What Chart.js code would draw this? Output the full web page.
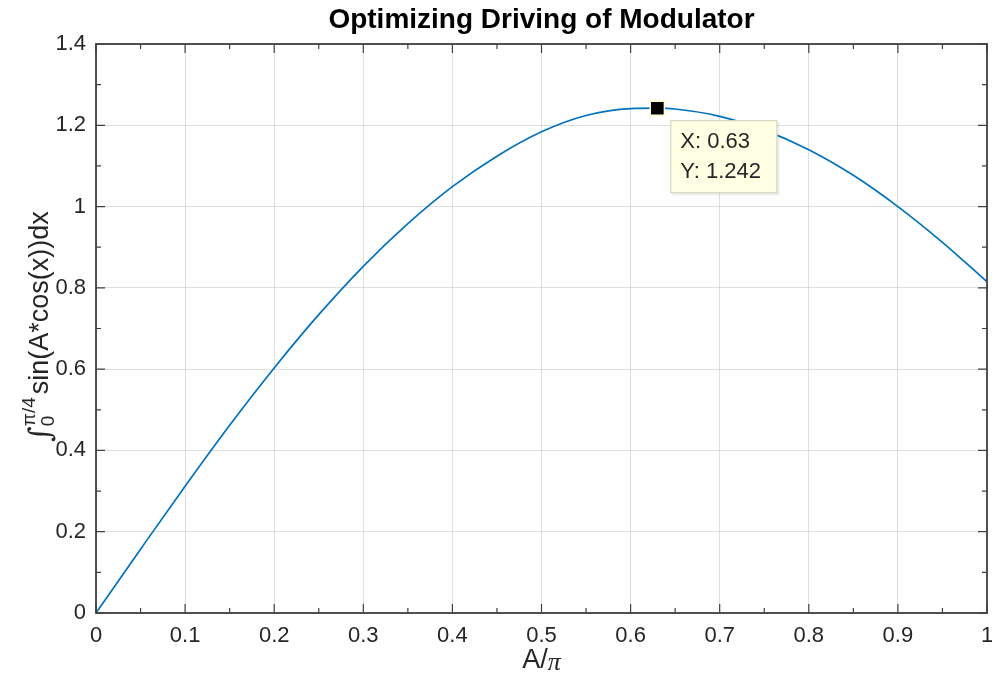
<!DOCTYPE html>
<html lang="en">
<head>
    <meta charset="UTF-8">
    <title>Optimizing Driving of Modulator</title>
    <script src="https://cdn.jsdelivr.net/npm/chart.js"></script>
    <style>
        html, body { margin: 0; padding: 0; background: #fff; }
        #wrap { width: 992px; height: 673px; }
    </style>
</head>
<body>
    <div id="wrap"><canvas id="modChart" width="992" height="673"></canvas></div>

    <script>
        // A/pi values and the integral value for each
        const aValues = [0, 0.05, 0.1, 0.15, 0.2, 0.25, 0.3, 0.35, 0.4, 0.45, 0.5, 0.55, 0.6, 0.63, 0.65, 0.7, 0.75, 0.8, 0.85, 0.9, 0.95, 1];
        const integralValues = [0, 0.157, 0.312, 0.462, 0.603, 0.734, 0.853, 0.958, 1.049, 1.124, 1.184, 1.224, 1.241, 1.242, 1.240, 1.222, 1.188, 1.140, 1.077, 1.000, 0.912, 0.815];

        // data tip
        const tipX = 0.63;
        const tipY = 1.242;

        const xTicks = [0, 0.1, 0.2, 0.3, 0.4, 0.5, 0.6, 0.7, 0.8, 0.9, 1];
        const yTicks = [0, 0.2, 0.4, 0.6, 0.8, 1, 1.2, 1.4];
        const xMinorTicks = [0.05, 0.15, 0.25, 0.35, 0.45, 0.55, 0.65, 0.75, 0.85, 0.95];
        const yMinorTicks = [0.1, 0.3, 0.5, 0.7, 0.9, 1.1, 1.3];

        const FONT = '"Liberation Sans", Arial, Helvetica, sans-serif';
        const TXT = '#262626';

        const fmt = v => String(Number(v.toFixed(2)));

        // box around the axes, inward ticks, labels, title and the data tip
        const matlabAxes = {
            id: 'matlabAxes',
            afterDraw(chart) {
                const c = chart.ctx;
                const a = chart.chartArea;
                const xs = chart.scales.x;
                const ys = chart.scales.y;
                c.save();

                // ticks on all four sides
                c.strokeStyle = '#404040';
                c.lineWidth = 1.2;
                c.beginPath();
                const xTick = (v, len) => {
                    const px = xs.getPixelForValue(v);
                    c.moveTo(px, a.bottom); c.lineTo(px, a.bottom - len);
                    c.moveTo(px, a.top); c.lineTo(px, a.top + len);
                };
                const yTick = (v, len) => {
                    const py = ys.getPixelForValue(v);
                    c.moveTo(a.left, py); c.lineTo(a.left + len, py);
                    c.moveTo(a.right, py); c.lineTo(a.right - len, py);
                };
                xTicks.forEach(v => xTick(v, 9));
                xMinorTicks.forEach(v => xTick(v, 5));
                yTicks.forEach(v => yTick(v, 9));
                yMinorTicks.forEach(v => yTick(v, 5));
                c.stroke();

                // axes box
                c.strokeStyle = '#404040';
                c.lineWidth = 1.8;
                c.strokeRect(a.left, a.top, a.right - a.left, a.bottom - a.top);

                const cx = (a.left + a.right) / 2;
                const cy = (a.top + a.bottom) / 2;

                // title
                c.fillStyle = '#000';
                c.font = 'bold 28px ' + FONT;
                c.textAlign = 'center';
                c.textBaseline = 'middle';
                c.fillText('Optimizing Driving of Modulator', cx, 20);

                // x axis label: A/pi
                c.fillStyle = TXT;
                c.font = '27px ' + FONT;
                const partA = 'A/';
                const wA = c.measureText(partA).width;
                c.font = 'italic 26px "Liberation Serif", serif';
                const wPi = c.measureText('\u03c0').width;
                let lx = cx - (wA + wPi) / 2;
                c.textAlign = 'left';
                c.font = '27px ' + FONT;
                c.fillText(partA, lx, 661);
                c.font = 'italic 26px "Liberation Serif", serif';
                c.fillText('\u03c0', lx + wA, 663);

                // y axis label: integral from 0 to pi/4 of sin(A*cos(x))dx
                c.save();
                c.translate(41, cy - 2);
                c.rotate(-Math.PI / 2);
                c.font = 'italic 30px "DejaVu Serif", serif';
                const wInt = c.measureText('\u222b').width;
                const mainText = 'sin(A*cos(x))dx';
                c.font = '27px ' + FONT;
                const wMain = c.measureText(mainText).width;
                c.font = '19px ' + FONT;
                const wSup = c.measureText('\u03c0/4').width;
                const total = wInt + wSup + 3 + wMain;
                let px = -total / 2;
                c.textAlign = 'left';
                c.textBaseline = 'middle';
                c.font = 'italic 30px "DejaVu Serif", serif';
                c.fillText('\u222b', px, 1);
                px += wInt;
                c.font = '19px ' + FONT;
                c.fillText('\u03c0/4', px, -11);
                c.fillText('0', px, 8);
                px += wSup + 3;
                c.font = '27px ' + FONT;
                c.fillText(mainText, px, 0);
                c.restore();

                // data tip box
                const tx = xs.getPixelForValue(tipX);
                const ty = ys.getPixelForValue(tipY);
                const bx = tx + 13, by = ty + 12, bw = 107, bh = 73;
                c.fillStyle = 'rgba(0,0,0,0.08)';
                c.fillRect(bx + 2, by + 2, bw, bh);
                c.fillStyle = '#ffffe4';
                c.fillRect(bx, by, bw, bh);
                c.strokeStyle = '#cfcfbf';
                c.lineWidth = 1;
                c.strokeRect(bx + 0.5, by + 0.5, bw - 1, bh - 1);
                c.fillStyle = TXT;
                c.font = '22px ' + FONT;
                c.textAlign = 'left';
                c.textBaseline = 'middle';
                c.fillText('X: ' + fmt(tipX), bx + 10, by + 22);
                c.fillText('Y: ' + tipY.toFixed(3), bx + 10, by + 52);

                c.restore();
            }
        };

        document.addEventListener('DOMContentLoaded', () => {
            const ctx = document.getElementById('modChart').getContext('2d');

            const curve = aValues.map((a, i) => ({ x: a, y: integralValues[i] }));

            new Chart(ctx, {
                type: 'line',
                data: {
                    datasets: [{
                        data: [{ x: tipX, y: tipY }],
                        pointStyle: 'rect',
                        pointRadius: 10,
                        pointBackgroundColor: '#000',
                        pointBorderColor: '#ffffc8',
                        pointBorderWidth: 1.5,
                        showLine: false,
                        order: 0
                    }, {
                        data: curve,
                        borderColor: '#0072bd',
                        borderWidth: 1.7,
                        pointRadius: 0,
                        cubicInterpolationMode: 'monotone',
                        fill: false,
                        order: 1
                    }]
                },
                options: {
                    responsive: false,
                    animation: false,
                    events: [],
                    layout: { autoPadding: false, padding: { top: 44, right: 5, left: 0, bottom: 0 } },
                    plugins: {
                        legend: { display: false },
                        title: { display: false },
                        tooltip: { enabled: false }
                    },
                    scales: {
                        x: {
                            type: 'linear',
                            min: 0,
                            max: 1,
                            afterBuildTicks: s => { s.ticks = xTicks.map(v => ({ value: v })); },
                            afterFit: s => { s.height = 60; s.paddingLeft = 0; s.paddingRight = 0; },
                            border: { display: false },
                            grid: { color: 'rgba(38,38,38,0.15)', lineWidth: 1, drawTicks: false },
                            ticks: {
                                autoSkip: false,
                                maxRotation: 0,
                                padding: 10,
                                color: TXT,
                                font: { family: FONT, size: 22 },
                                callback: v => fmt(v)
                            }
                        },
                        y: {
                            min: 0,
                            max: 1.4,
                            afterBuildTicks: s => { s.ticks = yTicks.map(v => ({ value: v })); },
                            afterFit: s => { s.width = 96; s.paddingTop = 0; s.paddingBottom = 0; },
                            border: { display: false },
                            grid: { color: 'rgba(38,38,38,0.15)', lineWidth: 1, drawTicks: false },
                            ticks: {
                                autoSkip: false,
                                padding: 10,
                                color: TXT,
                                font: { family: FONT, size: 22 },
                                callback: v => fmt(v)
                            }
                        }
                    }
                },
                plugins: [matlabAxes]
            });
        });
    </script>
</body>
</html>
